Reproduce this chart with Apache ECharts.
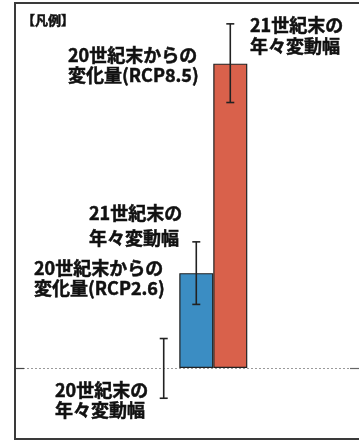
<!DOCTYPE html>
<html>
<head>
<meta charset="utf-8">
<script src="https://cdn.jsdelivr.net/npm/echarts@6/dist/echarts.min.js"></script>
<style>
  html, body { margin: 0; padding: 0; background: #fff; }
  #chart { width: 359px; height: 441px; }
</style>
</head>
<body>
<div id="chart"></div>
<script>
// Positions along the (hidden) horizontal axis for each period
const periods = ['20世紀末', '21世紀末'];
const periodX = [3, 4];

// Change from the late 20th century (bar heights)
const changeRCP26 = [1.0];
const changeRCP85 = [3.21];

// Year-to-year variability ranges [low, high]
const variability20C = [-0.32, 0.31];
const variabilityRCP26 = [0.67, 1.33];
const variabilityRCP85 = [2.80, 3.63];

// Annotation texts
const legendTitle = '【凡例】';
const labelRCP85 = '20世紀末からの\n変化量(RCP8.5)';
const labelRCP26 = '20世紀末からの\n変化量(RCP2.6)';
const labelVar21 = '21世紀末の\n年々変動幅';
const labelVar20 = '20世紀末の\n年々変動幅';

const FONT = '"Noto Sans CJK JP", "Noto Sans", sans-serif';

function errorBar(params, api) {
  const x = api.value(0);
  const lo = api.coord([x, api.value(1)]);
  const hi = api.coord([x, api.value(2)]);
  const cap = 4;
  const style = { stroke: '#222', lineWidth: 1.6 };
  return {
    type: 'group',
    children: [
      { type: 'line', shape: { x1: lo[0], y1: lo[1], x2: hi[0], y2: hi[1] }, style },
      { type: 'line', shape: { x1: lo[0] - cap, y1: lo[1], x2: lo[0] + cap, y2: lo[1] }, style },
      { type: 'line', shape: { x1: hi[0] - cap, y1: hi[1], x2: hi[0] + cap, y2: hi[1] }, style }
    ]
  };
}

// Zero line (dotted) with short solid ends, drawn in axis coordinates
function zeroLine(params, api) {
  const a = api.coord([0, 0]);
  const b = api.coord([7, 0]);
  const y = Math.round(a[1]) + 0.5;
  return {
    type: 'group',
    children: [
      { type: 'line', shape: { x1: a[0], y1: y, x2: b[0], y2: y },
        style: { stroke: '#9a9a9a', lineWidth: 1, lineDash: [2, 2] } },
      { type: 'line', shape: { x1: a[0], y1: y, x2: a[0] + 9, y2: y },
        style: { stroke: '#444', lineWidth: 1.2 } },
      { type: 'line', shape: { x1: b[0] - 12, y1: y, x2: b[0], y2: y },
        style: { stroke: '#666', lineWidth: 1.2 } }
    ]
  };
}

const chart = echarts.init(document.getElementById('chart'), null, { renderer: 'canvas' });

const textItem = (text, x, y, lh, size) => ({
  type: 'text',
  x: x, y: y,
  style: {
    text: text,
    font: 'bold ' + (size || 18) + 'px ' + FONT,
    fill: '#111',
    stroke: '#111',
    lineWidth: 0.5,
    lineHeight: lh || 20,
    verticalAlign: 'top',
    align: 'left'
  },
  z: 10
});

chart.setOption({
  animation: false,
  backgroundColor: '#fff',
  grid: {
    left: 15, right: -3, top: 3, bottom: 2,
    outerBoundsMode: 'none',
    show: false
  },
  xAxis: {
    type: 'value', min: 0, max: 7,
    show: false
  },
  yAxis: {
    type: 'value', min: -0.75, max: 3.85,
    show: false
  },
  series: [
    {
      name: 'zero',
      type: 'custom',
      renderItem: zeroLine,
      silent: true,
      z: 1,
      data: [[0, 0]]
    },
    {
      name: 'RCP2.6',
      type: 'bar',
      barWidth: 34,
      barGap: '0%',
      itemStyle: { color: '#3b8dc3', borderColor: '#222', borderWidth: 1.2 },
      data: changeRCP26.map((v) => [periodX[1], v]),
      z: 3
    },
    {
      name: 'RCP8.5',
      type: 'bar',
      barWidth: 34,
      barGap: '0%',
      itemStyle: { color: '#d9614b', borderColor: '#222', borderWidth: 1.2 },
      data: changeRCP85.map((v) => [periodX[1], v]),
      z: 3
    },
    {
      name: 'variability',
      type: 'custom',
      renderItem: errorBar,
      z: 5,
      data: [
        [periodX[0], variability20C[0], variability20C[1]],
        [periodX[1] - 0.343, variabilityRCP26[0], variabilityRCP26[1]],
        [periodX[1] + 0.343, variabilityRCP85[0], variabilityRCP85[1]]
      ]
    }
  ],
  graphic: [
    {
      type: 'rect',
      shape: { x: 15, y: 3, width: 360, height: 436 },
      style: { fill: 'none', stroke: '#3a3a3a', lineWidth: 2 },
      z: 20,
      silent: true
    },
    textItem(legendTitle, 22, 12, 16, 13),
    textItem(labelRCP85, 68, 45, 20),
    textItem(labelVar21, 250, 15, 21),
    textItem(labelVar21, 89, 201, 25),
    textItem(labelRCP26, 34, 258, 20),
    textItem(labelVar20, 55, 380, 20)
  ]
});
</script>
</body>
</html>
